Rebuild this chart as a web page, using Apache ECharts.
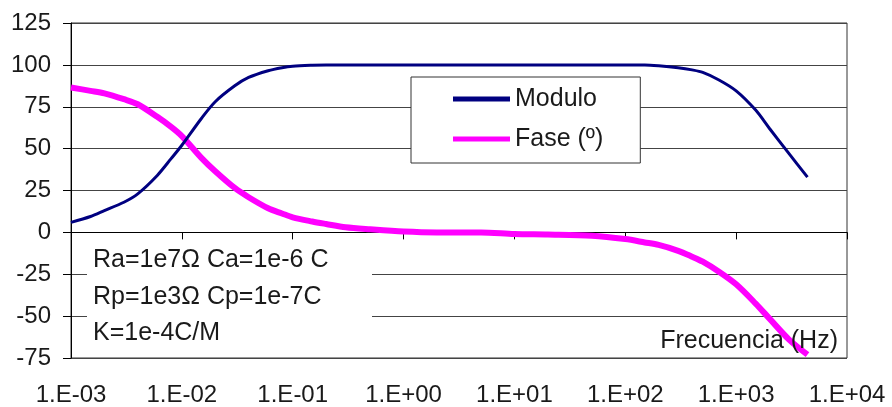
<!DOCTYPE html>
<html>
<head>
<meta charset="utf-8">
<script src="https://cdn.jsdelivr.net/npm/echarts@6/dist/echarts.min.js"></script>
<style>
  html, body { margin: 0; padding: 0; background: #ffffff; }
  #chart { width: 892px; height: 407px; }
</style>
</head>
<body>
<div id="chart"></div>
<script>
// Frequencies (Hz) at which the curves were read
const frequencies = [0.001, 0.0015, 0.002, 0.003, 0.004, 0.006, 0.008, 0.01, 0.015, 0.02,
  0.03, 0.04, 0.06, 0.08, 0.1, 0.15, 0.2, 0.3, 0.5, 1,
  2, 5, 10, 20, 50, 100, 150, 200, 300, 400,
  500, 700, 1000, 1500, 2000, 3000, 4400];
// Modulo values
const moduloValues = [6, 9.5, 13, 18, 23, 34, 44, 52, 68, 78,
  87.5, 92.5, 96.5, 98.3, 99.2, 99.8, 100, 100, 100, 100,
  100, 100, 100, 100, 100, 100, 100, 99.5, 98.3, 97,
  95.5, 91, 84.5, 73, 62, 47, 33];
// Fase (º) values
const faseValues = [86.5, 84.5, 83, 79.5, 76.5, 69, 63, 57.5, 44.5, 36.5,
  26.5, 21, 14.4, 11.3, 9, 6.5, 5, 3, 1.8, 0.5,
  0, 0, -1, -1.3, -2, -4, -6, -7.5, -11, -14.5,
  -17.5, -23.5, -31, -42.5, -51.5, -64, -73];
// Tick labels
const xTickValues = [0.001, 0.01, 0.1, 1, 10, 100, 1000, 10000];
const xTickLabels = ['1.E-03', '1.E-02', '1.E-01', '1.E+00', '1.E+01', '1.E+02', '1.E+03', '1.E+04'];
const seriesNames = ['Modulo', 'Fase (º)'];
const annotationLines = ['Ra=1e7Ω Ca=1e-6 C', 'Rp=1e3Ω Cp=1e-7C', 'K=1e-4C/M'];
const xAxisTitle = 'Frecuencia (Hz)';

const FONT = '"Liberation Sans", Arial, sans-serif';
const TEXT_COLOR = '#1a1a1a';
const MODULO_COLOR = '#000080';
const FASE_COLOR = '#ff00ff';

function pairs(xs, ys) { return xs.map((x, i) => [x, ys[i]]); }

function xLabel(v) {
  let best = 0, bestD = Infinity;
  for (let i = 0; i < xTickValues.length; i++) {
    const d = Math.abs(Math.log10(v) - Math.log10(xTickValues[i]));
    if (d < bestD) { bestD = d; best = i; }
  }
  return bestD < 0.01 ? xTickLabels[best] : '';
}

const chart = echarts.init(document.getElementById('chart'), null, { renderer: 'canvas' });
chart.setOption({
  backgroundColor: '#ffffff',
  animation: false,
  textStyle: { fontFamily: FONT },
  grid: {
    left: 71, right: 45, top: 23, bottom: 49,
    show: true, borderColor: '#333333', borderWidth: 1, backgroundColor: 'transparent'
  },
  legend: {
    data: [
      { name: seriesNames[0], icon: 'rect', itemStyle: { color: MODULO_COLOR } },
      { name: seriesNames[1], icon: 'rect', itemStyle: { color: FASE_COLOR } }
    ],
    orient: 'vertical',
    left: 411, top: 77,
    padding: [8, 37, 10, 42],
    backgroundColor: '#ffffff',
    borderColor: '#333333', borderWidth: 1,
    itemWidth: 57, itemHeight: 5, itemGap: 12,
    textStyle: { fontSize: 25, color: TEXT_COLOR, fontFamily: FONT, lineHeight: 28 },
    selectedMode: false
  },
  xAxis: {
    type: 'log', logBase: 10,
    min: 0.001, max: 10000, interval: 1, splitNumber: 7,
    axisLine: { show: true, lineStyle: { color: '#000000', width: 1 } },
    axisTick: { show: true, length: 7, lineStyle: { color: '#000000' } },
    minorTick: { show: false },
    splitLine: { show: false },
    axisLabel: { formatter: xLabel, fontSize: 24, color: TEXT_COLOR, margin: 25, fontFamily: FONT, showMinLabel: true, showMaxLabel: true }
  },
  yAxis: {
    type: 'value',
    min: -75, max: 125, interval: 25,
    axisLine: { show: true, lineStyle: { color: '#000000', width: 1 } },
    axisTick: { show: true, length: 8, lineStyle: { color: '#000000' } },
    splitLine: { show: true, lineStyle: { color: '#444444', width: 1 } },
    axisLabel: { fontSize: 24, color: TEXT_COLOR, margin: 20, fontFamily: FONT }
  },
  graphic: [
    {
      type: 'rect', z: 50,
      shape: { x: 87, y: 240, width: 285, height: 112 },
      style: { fill: '#ffffff' }
    },
    {
      type: 'text', z: 51, left: 93, top: 242,
      style: {
        text: annotationLines.join('\n'),
        font: '25px "Liberation Sans", Arial, sans-serif',
        fill: TEXT_COLOR, lineHeight: 36.5
      }
    },
    {
      type: 'text', z: 100, right: 54, top: 329,
      style: {
        text: xAxisTitle,
        font: '25px "Liberation Sans", Arial, sans-serif',
        fill: TEXT_COLOR
      }
    }
  ],
  series: [
    {
      name: seriesNames[0], type: 'line', data: pairs(frequencies, moduloValues),
      showSymbol: false, symbol: 'none', smooth: 0.3,
      lineStyle: { color: MODULO_COLOR, width: 3 }, itemStyle: { color: MODULO_COLOR }, z: 3
    },
    {
      name: seriesNames[1], type: 'line', data: pairs(frequencies, faseValues),
      showSymbol: false, symbol: 'none', smooth: 0.3,
      lineStyle: { color: FASE_COLOR, width: 6 }, itemStyle: { color: FASE_COLOR }, z: 2
    }
  ]
});
</script>
</body>
</html>
